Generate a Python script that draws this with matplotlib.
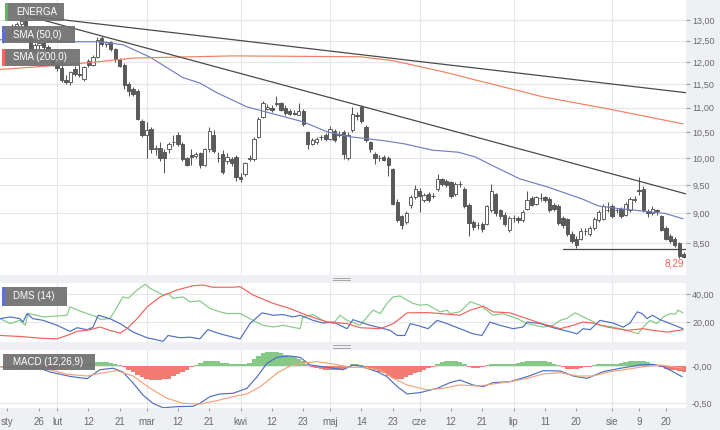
import matplotlib
matplotlib.use('Agg')
import matplotlib.pyplot as plt
from matplotlib.patches import Rectangle
from matplotlib.lines import Line2D

plt.rcParams['font.family'] = ['Liberation Sans', 'DejaVu Sans']

W, H = 720, 430
BG = '#eef0f3'

# session index: 0 = 16 Jan 2018 ... 152 = 24 Aug 2018
opens = [12.55, 12.62, 12.75, 12.70, 12.90, 12.96, 12.80, 12.28, 12.40, 12.44,
         12.34, 12.10, 11.96, 11.86, 11.60, 11.55, 11.85, 11.72, 11.62, 12.02,
         11.93, 12.12, 12.56, 12.42, 12.46, 12.30, 12.06, 11.94, 11.50, 11.40,
         11.36, 10.73, 10.45, 10.57, 10.17, 10.20, 10.12, 10.17, 10.30, 10.45,
         10.27, 10.00, 10.05, 10.04, 10.10, 9.86, 10.17, 10.45, 10.00, 10.08,
         9.95, 9.98, 10.02, 9.64, 9.70, 9.98, 9.98, 10.40, 10.80, 10.98,
         11.00, 11.08, 11.10, 11.00, 10.94, 10.90, 10.86, 10.94, 10.50, 10.27,
         10.30, 10.40, 10.45, 10.37, 10.52, 10.45, 10.50, 10.00, 10.55, 10.85,
         11.02, 10.60, 10.30, 10.08, 10.00, 10.02, 10.00, 9.79, 9.20, 8.95,
         8.85, 9.15, 9.28, 9.40, 9.24, 9.34, 9.30, 9.43, 9.60, 9.57,
         9.56, 9.34, 9.52, 9.43, 9.15, 8.85, 8.80, 8.82, 8.82, 9.06,
         9.33, 9.05, 8.98, 8.72, 8.92, 8.92, 8.88, 9.08, 9.27, 9.17,
         9.26, 9.28, 9.25, 9.15, 9.13, 8.92, 8.90, 8.66, 8.58, 8.58,
         8.70, 8.66, 8.75, 8.88, 8.91, 9.05, 9.13, 9.05, 9.08, 8.98,
         9.05, 9.23, 9.41, 9.43, 9.04, 9.00, 9.06, 8.95, 8.75, 8.62,
         8.58, 8.50, 8.33]
highs = [12.70, 12.80, 12.90, 12.95, 13.05, 13.12, 12.85, 12.45, 12.48, 12.50,
         12.40, 12.20, 12.05, 12.02, 11.70, 11.80, 11.90, 11.98, 11.90, 12.06,
         12.15, 12.58, 12.60, 12.50, 12.50, 12.33, 12.10, 11.98, 11.55, 11.45,
         11.40, 10.77, 10.70, 10.60, 10.25, 10.30, 10.18, 10.30, 10.45, 10.50,
         10.30, 10.02, 10.17, 10.12, 10.12, 10.20, 10.60, 10.55, 10.12, 10.15,
         10.10, 10.02, 10.05, 9.72, 9.92, 10.05, 10.40, 10.80, 11.15, 11.08,
         11.05, 11.25, 11.12, 11.05, 10.98, 10.96, 11.10, 10.98, 10.52, 10.38,
         10.40, 10.45, 10.48, 10.62, 10.56, 10.52, 10.54, 10.50, 11.02, 10.92,
         11.06, 10.65, 10.33, 10.12, 10.06, 10.05, 10.04, 9.82, 9.25, 8.98,
         9.04, 9.32, 9.50, 9.45, 9.35, 9.37, 9.36, 9.70, 9.62, 9.60,
         9.58, 9.56, 9.58, 9.47, 9.18, 8.88, 8.86, 8.85, 9.15, 9.52,
         9.36, 9.08, 9.02, 8.96, 8.98, 8.96, 9.06, 9.40, 9.30, 9.31,
         9.36, 9.31, 9.28, 9.18, 9.16, 8.95, 8.92, 8.70, 8.62, 8.75,
         8.76, 8.78, 8.94, 9.06, 9.17, 9.20, 9.16, 9.10, 9.11, 9.20,
         9.28, 9.30, 9.64, 9.48, 9.08, 9.12, 9.08, 8.98, 8.78, 8.66,
         8.60, 8.52, 8.37]
lows = [12.45, 12.55, 12.65, 12.66, 12.80, 12.78, 12.20, 12.24, 12.30, 12.30,
        12.05, 11.90, 11.80, 11.55, 11.50, 11.48, 11.68, 11.66, 11.58, 11.88,
        11.90, 12.10, 12.38, 12.35, 12.25, 12.00, 11.88, 11.40, 11.25, 11.25,
        10.75, 10.40, 10.00, 10.10, 10.05, 9.95, 9.72, 10.10, 10.22, 10.22,
        9.95, 9.85, 9.87, 10.00, 9.82, 9.84, 10.12, 10.10, 9.92, 9.70,
        9.88, 9.85, 9.58, 9.56, 9.66, 9.95, 9.95, 10.38, 10.78, 10.95,
        10.92, 11.04, 10.94, 10.86, 10.85, 10.84, 10.84, 10.62, 10.17, 10.24,
        10.26, 10.35, 10.33, 10.34, 10.30, 10.40, 9.98, 9.97, 10.50, 10.74,
        10.68, 10.30, 10.12, 9.88, 9.95, 9.94, 9.66, 9.15, 8.85, 8.74,
        8.82, 9.10, 9.25, 9.02, 9.20, 9.20, 9.26, 9.40, 9.48, 9.46,
        9.26, 9.30, 9.46, 9.10, 8.62, 8.72, 8.74, 8.68, 8.80, 9.03,
        8.96, 8.90, 8.78, 8.68, 8.86, 8.84, 8.85, 9.05, 9.12, 9.14,
        9.22, 9.20, 9.02, 9.04, 8.80, 8.76, 8.62, 8.50, 8.42, 8.55,
        8.64, 8.62, 8.72, 8.85, 8.88, 9.02, 8.93, 9.00, 8.92, 8.95,
        9.02, 9.20, 9.32, 9.02, 8.94, 8.97, 8.98, 8.70, 8.55, 8.50,
        8.45, 8.27, 8.27]
closes = [12.62, 12.75, 12.70, 12.90, 12.96, 12.82, 12.28, 12.40, 12.44, 12.34,
          12.10, 11.96, 11.86, 11.60, 11.56, 11.77, 11.72, 11.70, 11.88, 11.93,
          12.12, 12.52, 12.42, 12.46, 12.30, 12.06, 11.92, 11.48, 11.36, 11.30,
          10.77, 10.44, 10.55, 10.17, 10.20, 10.00, 10.00, 10.27, 10.31, 10.27,
          9.98, 9.87, 10.02, 10.08, 9.86, 10.17, 10.52, 10.14, 10.00, 9.73,
          10.02, 9.90, 9.64, 9.60, 9.90, 10.00, 10.37, 10.77, 11.10, 11.02,
          10.96, 11.10, 10.96, 10.90, 10.88, 10.88, 10.94, 10.67, 10.27, 10.35,
          10.36, 10.40, 10.36, 10.57, 10.35, 10.46, 10.08, 10.45, 10.87, 10.82,
          10.72, 10.35, 10.17, 10.00, 10.00, 9.97, 9.86, 9.17, 8.88, 8.80,
          9.00, 9.28, 9.43, 9.30, 9.32, 9.24, 9.30, 9.61, 9.52, 9.50,
          9.30, 9.52, 9.52, 9.13, 8.83, 8.77, 8.80, 8.74, 9.12, 9.40,
          9.00, 8.95, 8.82, 8.93, 8.92, 8.88, 9.03, 9.23, 9.15, 9.28,
          9.27, 9.23, 9.05, 9.08, 8.83, 8.80, 8.66, 8.54, 8.48, 8.70,
          8.70, 8.75, 8.91, 9.03, 9.13, 9.06, 8.96, 9.06, 8.95, 9.17,
          9.25, 9.25, 9.40, 9.05, 9.00, 9.08, 9.04, 8.72, 8.58, 8.54,
          8.48, 8.30, 8.29]

# moving averages (session index, price)
sma50_x = [-0.7, 15.6, 21.6, 26.7, 32.8, 40.1, 43.9, 47.7, 54.4, 59.6, 67.0, 72.3,
           77.5, 85.3, 89.7, 95.8, 101.6, 105.4, 109.9, 115.4, 121.7, 129.3, 132.9,
           136.7, 144.0, 147.8, 151.8]
sma50_y = [12.52, 12.47, 12.47, 12.40, 12.11, 11.65, 11.53, 11.32, 11.02, 10.89, 10.71,
           10.51, 10.41, 10.33, 10.27, 10.15, 10.11, 10.02, 9.83, 9.61, 9.46, 9.25,
           9.13, 9.09, 9.03, 9.00, 8.91]
sma200_x = [-0.7, 14.2, 21.6, 29.0, 51.3, 79.7, 87.1, 98.2, 109.4, 120.6, 135.5, 151.8]
sma200_y = [11.83, 11.94, 12.01, 12.09, 12.14, 12.12, 12.03, 11.78, 11.50, 11.23,
            10.97, 10.67]

# trend lines (start / end)
trend_x = [5, 152.5]
trend_upper = [13.11, 11.32]
trend_lower = [13.11, 9.34]
support_x = [125, 152.5]
support_y = 8.41
last_label = '8,29'

price_ticks = [8.5, 9.0, 9.5, 10.0, 10.5, 11.0, 11.5, 12.0, 12.5, 13.0]
price_labels = ['8,50', '9,00', '9,50', '10,00', '10,50', '11,00', '11,50',
                '12,00', '12,50', '13,00']

# DMS (14)
dmp_x = [-0.7, 1.5, 3.7, 4.9, 5.5, 8.9, 14.2, 14.9, 17.1, 20.9, 21.6, 23.8, 25.0, 26.7,
         27.9, 29.9, 31.7, 32.8, 34.3, 35.7, 36.8, 37.9, 40.1, 41.7, 43.9, 46.2, 48.4,
         50.0, 52.9, 55.8, 58.0, 60.3, 62.5, 66.3, 66.9, 69.2, 71.4, 73.7, 75.2, 76.8,
         79.7, 82.6, 84.2, 85.7, 87.1, 88.6, 91.5, 93.1, 94.7, 97.6, 99.1, 99.8, 102.0,
         104.3, 106.5, 109.4, 111.6, 114.8, 117.0, 120.6, 122.8, 124.4, 125.9, 127.7,
         130.4, 133.3, 136.2, 139.3, 141.8, 142.9, 144.5, 146.0, 147.4, 149.0, 150.1,
         150.7, 151.8]
dmp_y = [22.6, 19.1, 21.4, 17.9, 26.4, 23.8, 25.0, 30.9, 28.0, 23.8, 22.1, 22.6, 28.6, 38.0,
         37.0, 42.9, 47.0, 44.0, 41.6, 39.3, 40.5, 36.9, 38.0, 34.5, 35.2, 29.8, 27.4,
         26.2, 26.2, 21.4, 17.9, 16.7, 17.9, 15.5, 23.8, 25.5, 21.4, 19.1, 25.0, 21.4,
         17.9, 28.6, 26.2, 33.4, 38.0, 38.6, 33.4, 32.1, 32.6, 27.4, 28.6, 26.2, 27.4,
         34.5, 32.1, 25.0, 26.2, 22.6, 19.1, 16.6, 17.9, 21.4, 22.8, 26.7,
         22.6, 17.9, 16.7, 14.3, 11.9, 16.6, 21.4, 19.1, 23.8, 26.2, 25.7,
         28.6, 26.7]
dmm_x = [-0.7, 1.5, 3.7, 4.4, 5.3, 6.6, 8.9, 12.0, 14.9, 16.5, 18.7, 20.0, 21.2, 23.8,
         26.1, 29.0, 32.1, 35.7, 36.8, 39.5, 41.7, 43.9, 45.7, 48.4, 51.3, 52.9, 55.1,
         57.8, 60.3, 62.5, 64.7, 66.3, 69.2, 71.4, 73.7, 76.8, 78.1, 79.7, 81.9, 84.2,
         86.4, 88.0, 89.7, 90.9, 92.4, 94.9, 96.9, 99.1, 102.0, 104.9, 106.9, 108.7,
         110.9, 113.9, 116.1, 117.0, 119.9, 122.8, 125.9, 128.2, 129.5, 131.1, 133.3,
         136.2, 138.5, 140.0, 141.6, 142.7, 143.8, 145.0, 146.7, 149.0, 151.8]
dmm_y = [22.6, 23.8, 22.6, 20.2, 26.2, 22.6, 21.4, 17.9, 13.6, 16.2, 14.8, 16.4, 25.0, 22.6,
         19.1, 13.1, 9.1, 6.6, 10.7, 9.1, 9.5, 8.3, 14.8, 11.9, 9.5, 8.3, 19.1,
         26.7, 25.0, 25.5, 23.8, 25.0, 21.4, 19.5, 20.2, 15.5, 21.9, 20.2, 17.9, 16.2,
         14.3, 10.7, 10.7, 19.1, 17.9, 15.5, 21.4, 19.1, 15.5, 11.9, 10.7, 20.2,
         17.9, 15.5, 16.7, 20.2, 19.1, 16.2, 13.8, 11.9, 15.5, 14.8, 21.4,
         19.5, 16.6, 19.5, 27.4, 26.2, 22.6, 25.0, 21.9, 19.1, 15.5]
adx_x = [-0.7, 3.7, 8.2, 12.0, 14.2, 16.5, 19.4, 21.6, 23.8, 26.1, 27.6, 29.9, 32.1,
         35.0, 38.8, 42.4, 44.6, 46.8, 51.3, 52.9, 55.8, 60.3, 64.0, 67.8, 72.3, 76.8,
         79.7, 84.2, 87.1, 90.2, 94.7, 97.6, 102.0, 104.3, 107.2, 109.4, 113.2, 117.0,
         119.9, 124.4, 127.3, 129.5, 131.7, 134.9, 139.3, 142.9, 145.2, 148.3, 151.8]
adx_y = [10.7, 10.0, 8.8, 8.3, 10.7, 13.6, 14.8, 16.7, 14.3, 12.4, 15.5, 22.6, 30.9,
         38.0, 42.9, 45.9, 46.4, 44.8, 44.8, 45.2, 39.3, 33.4, 29.8, 25.0, 20.2, 19.1,
         16.2, 15.5, 19.1, 26.7, 26.9, 26.2, 25.0, 28.6, 31.4, 27.4, 26.7, 22.6,
         19.5, 15.5, 17.9, 20.2, 19.5, 16.7, 14.3, 15.5, 14.3, 13.1, 14.8]

# MACD (12,26,9)
macd_x = [-0.7, 3.7, 8.2, 10.4, 12.7, 14.9, 18.7, 21.6, 24.5, 26.7, 29.0, 31.2, 33.4,
          35.7, 38.8, 42.4, 43.9, 46.2, 48.4, 51.3, 54.4, 56.7, 58.9, 61.1, 64.0, 66.3,
          68.5, 71.4, 73.7, 75.9, 78.1, 79.7, 83.5, 85.7, 88.0, 90.2, 93.1, 96.9, 99.8,
          102.0, 104.9, 107.2, 109.4, 113.2, 117.0, 120.6, 124.4, 127.3, 130.4, 134.0,
          137.8, 140.0, 142.2, 145.2, 147.4, 149.6, 151.6]
macd_y = [-0.01, -0.03, -0.03, -0.08, -0.11, -0.14, -0.17, -0.05, -0.03, -0.08, -0.23,
          -0.39, -0.50, -0.56, -0.545, -0.54, -0.50, -0.41, -0.375, -0.366, -0.30,
          -0.143, 0.036, 0.116, 0.134, 0.116, 0.013, -0.01, -0.03, -0.05, 0.013, 0.0,
          -0.076, -0.143, -0.277, -0.375, -0.357, -0.30, -0.223, -0.188, -0.255,
          -0.277, -0.223, -0.21, -0.143, -0.063, -0.067, -0.134, -0.166, -0.076,
          -0.031, -0.01, 0.013, 0.022, -0.01, -0.076, -0.143]
signal_x = [-0.7, 6.6, 10.4, 14.2, 18.7, 21.6, 25.4, 29.0, 32.8, 36.6, 40.1, 43.9, 47.7,
            51.3, 54.4, 57.4, 61.1, 64.0, 66.3, 70.1, 73.7, 77.5, 79.7, 84.2, 87.1,
            90.2, 94.7, 98.2, 102.0, 106.5, 109.4, 113.2, 117.0, 120.6, 124.4, 128.2,
            131.7, 135.5, 139.3, 142.9, 146.7, 149.6, 151.8]
signal_y = [-0.01, -0.01, -0.05, -0.11, -0.134, -0.098, -0.063, -0.134, -0.30, -0.433,
            -0.50, -0.51, -0.465, -0.41, -0.375, -0.277, -0.098, 0.0, 0.036, 0.058,
            0.027, -0.018, -0.018, -0.05, -0.166, -0.255, -0.32, -0.30, -0.255,
            -0.268, -0.241, -0.21, -0.166, -0.107, -0.09, -0.134, -0.134, -0.076,
            -0.045, -0.01, 0.013, -0.01, -0.03]
hist = [-0.01, -0.01, 0.0, 0.01, 0.01, 0.01, 0.0, -0.01, -0.02, -0.03, -0.03, -0.03,
        -0.02, -0.02, -0.01, -0.01, 0.0, 0.01, 0.01, 0.02, 0.03,
        0.05, 0.05, 0.05, 0.04, 0.03, 0.01,
        -0.02, -0.05, -0.08, -0.12, -0.15, -0.17, -0.19, -0.19, -0.19, -0.18, -0.17,
        -0.14, -0.11, -0.08, -0.05, -0.02,
        0.01, 0.04, 0.07, 0.07, 0.07, 0.06, 0.04, 0.04, 0.03, 0.03, 0.02, 0.02, 0.04,
        0.09, 0.13, 0.17, 0.19, 0.19, 0.19, 0.17, 0.15, 0.13, 0.12, 0.09, 0.06, 0.03,
        -0.01, -0.03, -0.04, -0.05, -0.05, -0.06, -0.05, -0.04, -0.01,
        0.02, 0.02, 0.01,
        -0.01, -0.03, -0.05, -0.08, -0.10, -0.13, -0.16, -0.18, -0.18, -0.15, -0.12,
        -0.10, -0.08, -0.06, -0.03, -0.01,
        0.03, 0.05, 0.06, 0.06, 0.06, 0.05, 0.03,
        -0.02, -0.03, -0.03, -0.02,
        0.01, 0.02, 0.02, 0.02, 0.02, 0.02, 0.03, 0.04, 0.05, 0.06, 0.07, 0.07, 0.07,
        0.06, 0.05, 0.03, 0.01,
        -0.02, -0.04, -0.04, -0.04, -0.03, -0.02, -0.01,
        0.01, 0.02, 0.02, 0.02, 0.03, 0.03, 0.04, 0.05, 0.06, 0.07, 0.07, 0.06, 0.05,
        0.03, 0.01,
        -0.02, -0.04, -0.05, -0.06, -0.07, -0.08]

# date axis
month_ticks = [12, 32, 53, 73, 93, 114, 136]
date_ticks = [0.8, 8, 12, 19, 26, 32, 39, 46, 53, 60, 67, 73, 80, 87, 93, 100, 107,
              114, 121, 128, 136, 142, 148]
date_labels = ['sty', '26', 'lut', '12', '21', 'mar', '12', '21', 'kwi', '12', '23',
               'maj', '14', '23', 'cze', '12', '21', 'lip', '11', '20', 'sie', '9', '20']

XLIM = (-0.74, 152.5)
GRID = '#e6e7ea'
TXT = '#6a6a6a'


def px_axes(fig, left, top, right, bottom):
    return fig.add_axes([left / W, 1 - bottom / H, (right - left) / W, (bottom - top) / H])


def style(ax):
    ax.set_facecolor('white')
    for s in ax.spines.values():
        s.set_visible(False)
    ax.set_xlim(*XLIM)
    ax.yaxis.tick_right()
    ax.tick_params(axis='y', length=3, color='#a0a0a0', labelcolor=TXT, labelsize=6.5, pad=1.5)
    ax.tick_params(axis='x', bottom=False, labelbottom=False)
    ax.grid(axis='y', color=GRID, lw=0.8)
    for m in month_ticks:
        ax.axvline(m, color=GRID, lw=0.8, zorder=0)
    ax.set_axisbelow(True)


def label_box(fig, x0, y0, x1, y1, text, stripe=None):
    fig.add_artist(Rectangle((x0 / W, 1 - y1 / H), (x1 - x0) / W, (y1 - y0) / H,
                             transform=fig.transFigure, facecolor='#707070', alpha=0.93,
                             edgecolor='none', zorder=5))
    if stripe:
        fig.add_artist(Rectangle(((x0 - 1) / W, 1 - y1 / H), 2.5 / W, (y1 - y0) / H,
                                 transform=fig.transFigure, facecolor=stripe,
                                 edgecolor='none', zorder=6))
    fig.text((x0 + 10) / W, 1 - (y0 + y1) / 2 / H, text, color='white', fontsize=7,
             va='center', ha='left', zorder=7)


def grip(fig, y):
    for dy in (-1.3, 1.3):
        fig.add_artist(Line2D([333 / W, 350 / W], [1 - (y + dy) / H] * 2,
                              transform=fig.transFigure, color='#9a9a9a', lw=0.6))


fig = plt.figure(figsize=(W / 100, H / 100), dpi=100, facecolor=BG)

# ---- price panel
ax = px_axes(fig, 0, 0, 686, 275)
style(ax)
ax.set_yscale('log')
ax.set_ylim(8.006, 13.50)
ax.set_yticks(price_ticks, labels=price_labels)
ax.minorticks_off()

idx = list(range(len(closes)))
up = [c >= o for o, c in zip(opens, closes)]
ax.vlines(idx, lows, highs, color='#555555', lw=0.75, zorder=3)
bottoms = [min(o, c) for o, c in zip(opens, closes)]
heights = [max(abs(c - o), 0.004) for o, c in zip(opens, closes)]
ax.bar(idx, heights, bottom=bottoms, width=0.74,
       color=['white' if u else '#5a5a5a' for u in up],
       edgecolor='#555555', lw=0.65, zorder=4)

ax.plot(sma50_x, sma50_y, color='#6f80c2', lw=0.85, zorder=5)
ax.plot(sma200_x, sma200_y, color='#f0805f', lw=0.85, zorder=5)
ax.plot(trend_x, trend_upper, color='#4a4a4a', lw=0.9, zorder=5)
ax.plot(trend_x, trend_lower, color='#4a4a4a', lw=0.9, zorder=5)
ax.plot(support_x, [support_y, support_y], color='#4a4a4a', lw=0.9, zorder=5)
ax.text(0.997, 1 - 263 / 275, last_label, transform=ax.transAxes, ha='right',
        va='center', color='#f0625e', fontsize=7.2)

# ---- DMS panel
ax2 = px_axes(fig, 0, 283.3, 686, 341.7)
style(ax2)
ax2.set_ylim(6.3, 47.6)
ax2.set_yticks([20, 40], labels=['20,00', '40,00'])
ax2.plot(dmp_x, dmp_y, color='#86c986', lw=0.85)
ax2.plot(dmm_x, dmm_y, color='#4f6fc0', lw=0.85)
ax2.plot(adx_x, adx_y, color='#f0625b', lw=0.85)

# ---- MACD panel
ax3 = px_axes(fig, 0, 350, 686, 408.3)
style(ax3)
ax3.set_ylim(-0.567, 0.214)
ax3.set_yticks([-0.5, 0.0], labels=['-0,50', '-0,00'])
ax3.tick_params(axis='y', length=0, pad=4)
ax3.bar(idx, hist, width=1.0, color=['#86c986' if v >= 0 else '#f47a72' for v in hist],
        lw=0, zorder=2)
ax3.plot(macd_x, macd_y, color='#4f6fc0', lw=0.85, zorder=3)
ax3.plot(signal_x, signal_y, color='#f5a27a', lw=0.85, zorder=3)
ax3.set_xticks(date_ticks, labels=date_labels)
ax3.tick_params(axis='x', bottom=True, labelbottom=True, length=2, color='#a0a0a0',
                labelcolor=TXT, labelsize=7, pad=4)

# ---- legend boxes and panel grips
label_box(fig, 6, 3, 64, 21, 'ENERGA', '#5cb85c')
label_box(fig, 3, 26, 75, 43, 'SMA (50,0)', '#5b74c6')
label_box(fig, 3, 49, 80, 66, 'SMA (200,0)', '#f06a5a')
label_box(fig, 3, 287, 67, 305.5, 'DMS (14)', '#5b74c6')
label_box(fig, 3, 354, 95, 369.5, 'MACD (12,26,9)')
grip(fig, 279)
grip(fig, 346.5)

fig.savefig('out.png', dpi=100, facecolor=BG)
